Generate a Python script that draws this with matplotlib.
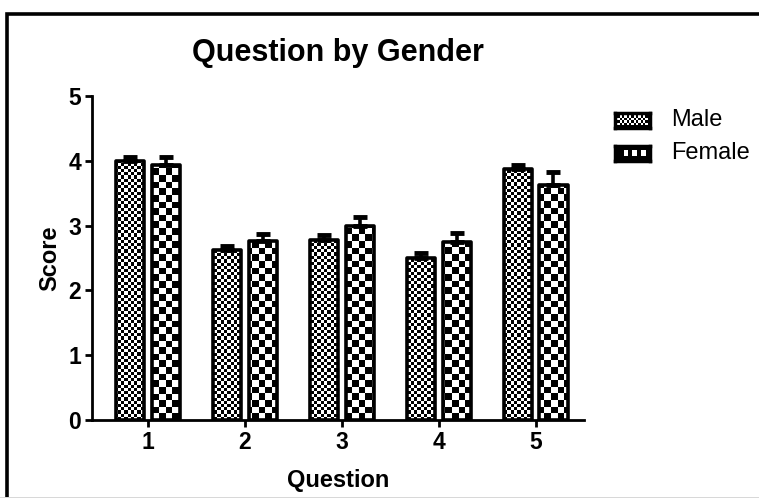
import numpy as np
import matplotlib
matplotlib.use('Agg')
import matplotlib.pyplot as plt
from matplotlib.patches import Rectangle

plt.rcParams['font.family'] = ['Liberation Sans', 'DejaVu Sans']

questions = ['1', '2', '3', '4', '5']
male = [4.00, 2.62, 2.78, 2.50, 3.87]
male_err = [0.06, 0.06, 0.07, 0.07, 0.07]
female = [3.93, 2.77, 3.00, 2.75, 3.63]
female_err = [0.13, 0.10, 0.14, 0.13, 0.19]

W, H = 759, 498
fig = plt.figure(figsize=(W / 100, H / 100), dpi=100)

# frame around the whole figure (left + top visible, rest runs off the image)
fig.patches.append(Rectangle((6.5 / W, -0.2), 1.2, (H - 14.5) / H + 0.2, transform=fig.transFigure,
                             fill=False, edgecolor='black', linewidth=2.6, zorder=0))
fig.patches.append(Rectangle((0, 0), 1, 1.5 / H, transform=fig.transFigure,
                             facecolor='#d8d8d8', edgecolor='none', zorder=0))

ax = fig.add_axes([92 / W, 78 / H, 492 / W, 324 / H])
xlim = (0.42, 5.5)
ylim = (0, 5)


def checker(sq):
    cols = int(492 / sq)
    rows = int(324 / sq)
    return (np.indices((rows, cols)).sum(axis=0) % 2).astype(float)


x = np.arange(1, len(questions) + 1)
bw = 0.29
off = 0.185
series = [(x - off, male, male_err, checker(3.2)),
          (x + off, female, female_err, checker(6.6))]

for pos, vals, errs, img in series:
    bars = ax.bar(pos, vals, bw, facecolor='none', edgecolor='black',
                  linewidth=2.6, joinstyle='round', zorder=3)
    for b in bars:
        im = ax.imshow(img, cmap='gray', extent=(*xlim, *ylim), origin='lower',
                       interpolation='nearest', aspect='auto', zorder=2)
        im.set_clip_path(b)
    ax.errorbar(pos, vals, yerr=[np.zeros(len(vals)), errs], fmt='none',
                ecolor='black', elinewidth=2.6, capsize=5, capthick=3.5, zorder=4)

ax.set_xlim(*xlim)
ax.set_ylim(*ylim)
ax.set_xticks(x)
ax.set_xticklabels(questions)
ax.set_yticks(range(6))
for s in ['top', 'right']:
    ax.spines[s].set_visible(False)
for s in ['left', 'bottom']:
    ax.spines[s].set_linewidth(2)
ax.tick_params(width=2, length=5, labelsize=16.5, pad=3)
for lab in ax.get_xticklabels() + ax.get_yticklabels():
    lab.set_fontweight('bold')

ax.set_xlabel('Question', fontsize=17, fontweight='bold', labelpad=11)
ax.set_ylabel('Score', fontsize=17, fontweight='bold', labelpad=5)
ax.set_title('Question by Gender', fontsize=22, fontweight='bold', pad=25)

# legend swatches
labels = ['Male', 'Female']
for i, (lab, sq) in enumerate(zip(labels, [2.2, 4.2])):
    y0 = H - 128 - i * 33
    lax = fig.add_axes([615 / W, y0 / H, 35 / W, 15 / H])
    pat = (np.indices((int(15 / sq), int(35 / sq))).sum(axis=0) % 2).astype(float)
    pat[0, :] = 0
    pat[-1, :] = 0
    pat[:, 0] = 0
    pat[:, -1] = 0
    lax.imshow(pat, cmap='gray', interpolation='nearest', aspect='auto')
    for s in lax.spines.values():
        s.set_linewidth(2.5)
        s.set_joinstyle('round')
    lax.set_xticks([])
    lax.set_yticks([])
    fig.text(671 / W, (y0 + 8) / H, lab, fontsize=17, va='center', ha='left')

fig.savefig('out.png', dpi=100)
